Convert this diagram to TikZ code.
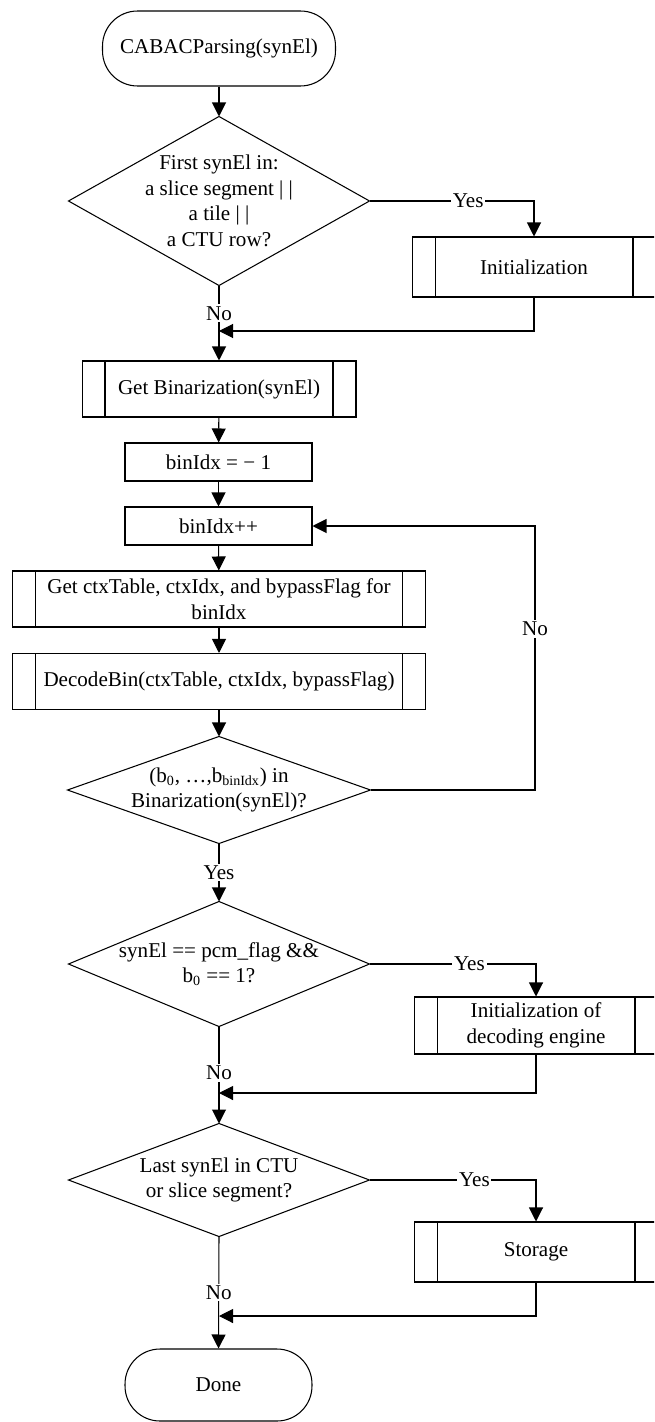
\documentclass[tikz,border=0pt]{standalone}
\usepackage{fontspec}
\setmainfont{Liberation Serif}
\usetikzlibrary{arrows.meta}

\begin{document}
\begin{tikzpicture}[x=0.02cm, y=-0.02cm, line width=0.6pt,
  font=\fontsize{12}{14.5}\selectfont,
  arr/.style={-{Triangle[length=2.8mm,width=2.8mm]}},
  term/.style={draw, rounded corners=0.7cm, minimum width=4.66cm, minimum height=1.5cm},
  proc/.style={draw, minimum width=3.74cm, minimum height=0.76cm},
  sub/.style={draw, align=center, path picture={
    \draw ([xshift=0.46cm]path picture bounding box.north west) -- ([xshift=0.46cm]path picture bounding box.south west)
          ([xshift=-0.46cm]path picture bounding box.north east) -- ([xshift=-0.46cm]path picture bounding box.south east);}},
  dec/.style={align=center, inner sep=0pt},
  lbl/.style={fill=white, inner sep=1pt}]
\clip (0,0) rectangle (654,1422);
% Start
\node[term] (start) at (219,48.5) {CABACParsing(synEl)};
% First decision and initialization
\node[dec, minimum width=6cm, minimum height=3.36cm] (first) at (219,201)
  {First synEl in:\\a slice segment | |\\a tile | |\\a CTU row?};
\draw (first.north) -- (first.east) -- (first.south) -- (first.west) -- cycle;
\node[sub, minimum width=4.88cm, minimum height=1.2cm] (init) at (534,267) {Initialization};
\coordinate (join1) at (219,331);
% Binarization and bin index
\node[sub, minimum width=5.48cm, minimum height=1.12cm] (getbin) at (219,389) {Get Binarization(synEl)};
\node[proc] (binreset) at (218.5,462) {binIdx = − 1};
\node[proc] (bininc) at (218.5,526) {binIdx++};
\node[sub, minimum width=8.25cm, minimum height=1.12cm] (getctx) at (219,599)
  {Get ctxTable, ctxIdx, and bypassFlag for\\binIdx};
\node[sub, minimum width=8.25cm, minimum height=1.12cm] (decbin) at (219,681.5)
  {DecodeBin(ctxTable, ctxIdx, bypassFlag)};
% Bin string check
\node[dec, minimum width=6.04cm, minimum height=2.12cm] (inbin) at (219,790)
  {(b\textsubscript{0}, \dots,b\textsubscript{binIdx}) in\\Binarization(synEl)?};
\draw (inbin.north) -- (inbin.east) -- (inbin.south) -- (inbin.west) -- cycle;
\coordinate (loop) at (535,790);
% pcm flag check
\node[dec, minimum width=6cm, minimum height=2.48cm] (pcm) at (219,964)
  {synEl == pcm\_flag \&\&\\b\textsubscript{0} == 1?};
\draw (pcm.north) -- (pcm.east) -- (pcm.south) -- (pcm.west) -- cycle;
\node[sub, minimum width=4.88cm, minimum height=1.14cm] (initdec) at (536,1025.5)
  {Initialization of\\decoding engine};
\coordinate (join2) at (219,1093);
% Last check and storage
\node[dec, minimum width=6cm, minimum height=2.24cm] (last) at (219,1180)
  {Last synEl in CTU\\or slice segment?};
\draw (last.north) -- (last.east) -- (last.south) -- (last.west) -- cycle;
\node[sub, minimum width=4.88cm, minimum height=1.2cm] (storage) at (536,1252) {Storage};
\coordinate (join3) at (219,1316);
% Done
\node[term, minimum width=3.74cm, minimum height=1.44cm] (done) at (218.5,1385) {Done};
% Connectors
\draw[arr] (start) -- (first.north);
\draw[arr] (first.east) -- node[lbl, pos=0.6] {Yes} (first.east -| init) -- (init.north);
\draw[arr] (first.south) -- node[lbl, pos=0.37] {No} (getbin.north);
\draw[arr] (init.south) |- (join1);
\draw[arr] (getbin) -- (binreset);
\draw[arr] (binreset) -- (bininc);
\draw[arr] (bininc) -- (getctx);
\draw[arr] (getctx) -- (decbin);
\draw[arr] (decbin) -- (inbin.north);
\draw[arr] (inbin.east) -- (loop) -- node[lbl, pos=0.61] {No} (loop |- bininc) -- (bininc.east);
\draw[arr] (inbin.south) -- node[lbl] {Yes} (pcm.north);
\draw[arr] (pcm.east) -- node[lbl, pos=0.6] {Yes} (pcm.east -| initdec) -- (initdec.north);
\draw[arr] (pcm.south) -- node[lbl, pos=0.48] {No} (last.north);
\draw[arr] (initdec.south) |- (join2);
\draw[arr] (last.east) -- node[lbl, pos=0.63] {Yes} (last.east -| storage) -- (storage.north);
\draw[arr] (last.south) -- node[lbl, pos=0.5] {No} (done.north);
\draw[arr] (storage.south) |- (join3);
\end{tikzpicture}
\end{document}
